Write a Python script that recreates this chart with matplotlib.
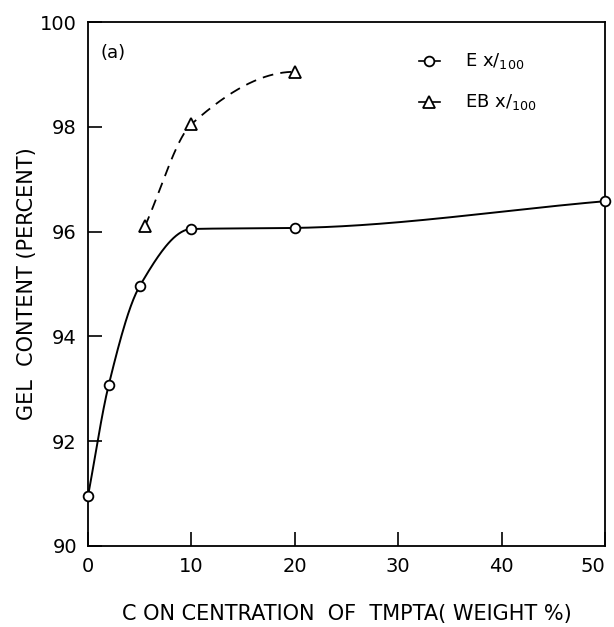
import numpy as np
import matplotlib
matplotlib.use("Agg")
import matplotlib.pyplot as plt

# Data
ex_x = [0, 2, 5, 10, 20, 50]
ex_y = [90.95, 93.07, 94.96, 96.05, 96.07, 96.58]
eb_x = [5.5, 10, 20]
eb_y = [96.1, 98.05, 99.05]
xticks = [0, 10, 20, 30, 40, 50]
yticks = [90, 92, 94, 96, 98, 100]


def pchip(x, y, xs, end_slope=None):
    x = np.asarray(x, float)
    y = np.asarray(y, float)
    h = np.diff(x)
    d = np.diff(y) / h
    n = len(x)
    m = np.zeros(n)
    for k in range(1, n - 1):
        if d[k - 1] * d[k] <= 0:
            m[k] = 0
        else:
            w1 = 2 * h[k] + h[k - 1]
            w2 = h[k] + 2 * h[k - 1]
            m[k] = (w1 + w2) / (w1 / d[k - 1] + w2 / d[k])
    m[0] = d[0]
    m[-1] = d[-1] if end_slope is None else end_slope
    out = np.empty_like(xs)
    idx = np.clip(np.searchsorted(x, xs) - 1, 0, n - 2)
    for i, xv in enumerate(xs):
        k = idx[i]
        t = (xv - x[k]) / h[k]
        h00 = 2 * t**3 - 3 * t**2 + 1
        h10 = t**3 - 2 * t**2 + t
        h01 = -2 * t**3 + 3 * t**2
        h11 = t**3 - t**2
        out[i] = h00 * y[k] + h10 * h[k] * m[k] + h01 * y[k + 1] + h11 * h[k] * m[k + 1]
    return out


fig = plt.figure(figsize=(6.14, 6.27), dpi=100)
ax = fig.add_axes([0.1433, 0.1292, 0.842, 0.8357])

xs = np.linspace(ex_x[0], ex_x[-1], 400)
ax.plot(xs, pchip(ex_x, ex_y, xs), color="black", lw=1.4)
ax.plot(ex_x, ex_y, "o", ms=7, mfc="white", mec="black", mew=1.3, clip_on=False, zorder=5)

xs2 = np.linspace(eb_x[0], eb_x[-1], 200)
ax.plot(xs2, pchip(eb_x, eb_y, xs2, end_slope=0.0), color="black", lw=1.3, ls=(0, (6, 4)))
ax.plot(eb_x, eb_y, "^", ms=8, mfc="white", mec="black", mew=1.3, clip_on=False, zorder=5)

ax.set_xlim(0, 50)
ax.set_ylim(90, 100)
ax.set_xticks(xticks)
ax.set_yticks(yticks)
ax.tick_params(direction="in", length=10, width=1.2, labelsize=14, pad=8)
labels = ax.get_xticklabels()
labels[-1].set_horizontalalignment("right")
labels[-1].set_x(50)
for s in ax.spines.values():
    s.set_linewidth(1.3)

ax.set_xlabel("C ON CENTRATION  OF  TMPTA( WEIGHT %)", fontsize=15, labelpad=20)
ax.set_ylabel("GEL  CONTENT (PERCENT)", fontsize=15, labelpad=2)

ax.text(0.025, 0.94, "(a)", transform=ax.transAxes, fontsize=13, va="center")

# legend
lx, ly1, ly2 = 0.66, 0.925, 0.848
ax.plot([lx - 0.02, lx + 0.02], [ly1, ly1], color="black", lw=1.2, transform=ax.transAxes)
ax.plot([lx], [ly1], "o", ms=7, mfc="white", mec="black", mew=1.3, transform=ax.transAxes)
ax.text(lx + 0.07, ly1, r"E x/$_{100}$", transform=ax.transAxes, fontsize=13, va="center")
ax.plot([lx - 0.02, lx + 0.02], [ly2, ly2], color="black", lw=1.2, transform=ax.transAxes)
ax.plot([lx], [ly2], "^", ms=8, mfc="white", mec="black", mew=1.3, transform=ax.transAxes)
ax.text(lx + 0.07, ly2, r"EB x/$_{100}$", transform=ax.transAxes, fontsize=13, va="center")

fig.savefig("out.png", dpi=100)
